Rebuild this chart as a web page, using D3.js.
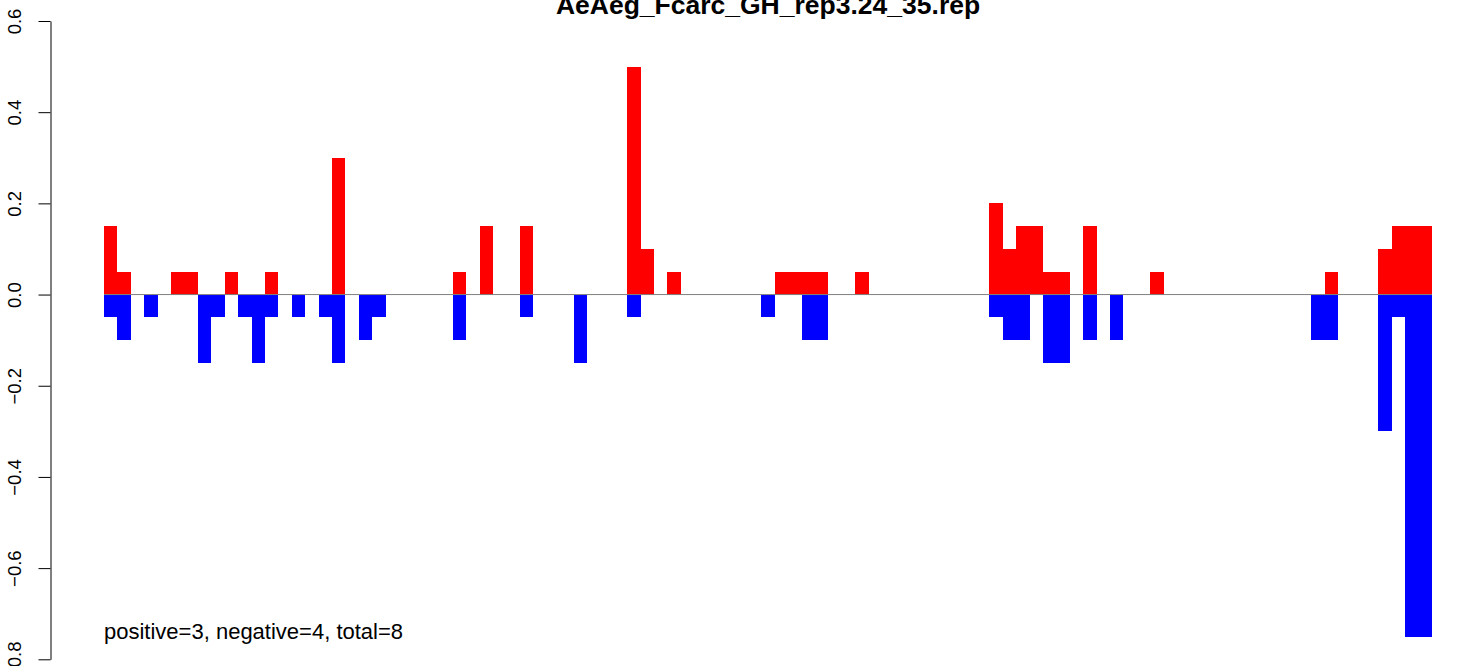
<!DOCTYPE html>
<html>
<head>
<meta charset="utf-8">
<script src="https://cdn.jsdelivr.net/npm/d3@7"></script>
<style>
  html, body { margin: 0; padding: 0; background: #fff; }
  svg { display: block; }
  text { font-family: "Liberation Sans", Arial, Helvetica, sans-serif; }
</style>
</head>
<body>
<svg id="chart" width="1460" height="666"></svg>
<script>
// ---- data ----
const titleText = "AeAeg_Fcarc_GH_rep3.24_35.rep";
const noteText = "positive=3, negative=4, total=8";
const xLabelText = "bin position, TSS = 100";
const positions = d3.range(99);
const positiveValues = [
  0.15, 0.05, 0, 0, 0, 0.05, 0.05, 0, 0, 0.05,
  0, 0, 0.05, 0, 0, 0, 0, 0.30, 0, 0,
  0, 0, 0, 0, 0, 0, 0.05, 0, 0.15, 0,
  0, 0.15, 0, 0, 0, 0, 0, 0, 0, 0.50,
  0.10, 0, 0.05, 0, 0, 0, 0, 0, 0, 0,
  0.05, 0.05, 0.05, 0.05, 0, 0, 0.05, 0, 0, 0,
  0, 0, 0, 0, 0, 0, 0.20, 0.10, 0.15, 0.15,
  0.05, 0.05, 0, 0.15, 0, 0, 0, 0, 0.05, 0,
  0, 0, 0, 0, 0, 0, 0, 0, 0, 0,
  0, 0.05, 0, 0, 0, 0.10, 0.15, 0.15, 0.15
];
const negativeValues = [
  -0.05, -0.10, 0, -0.05, 0, 0, 0, -0.15, -0.05, 0,
  -0.05, -0.15, -0.05, 0, -0.05, 0, -0.05, -0.15, 0, -0.10,
  -0.05, 0, 0, 0, 0, 0, -0.10, 0, 0, 0,
  0, -0.05, 0, 0, 0, -0.15, 0, 0, 0, -0.05,
  0, 0, 0, 0, 0, 0, 0, 0, 0, -0.05,
  0, 0, -0.10, -0.10, 0, 0, 0, 0, 0, 0,
  0, 0, 0, 0, 0, 0, -0.05, -0.10, -0.10, 0,
  -0.15, -0.15, 0, -0.10, 0, -0.10, 0, 0, 0, 0,
  0, 0, 0, 0, 0, 0, 0, 0, 0, 0,
  -0.10, -0.10, 0, 0, 0, -0.30, -0.05, -0.75, -0.75
];
const yTicks = [0.6, 0.4, 0.2, 0.0, -0.2, -0.4, -0.6, -0.8];
const yTickLabels = ["0.6", "0.4", "0.2", "0.0", "\u22120.2", "\u22120.4", "\u22120.6", "\u22120.8"];

// ---- layout ----
const svg = d3.select("#chart");
const plotLeft = 50.9, plotRight = 1485.1;
const n = positions.length;
const ext = 0.04 * n;
const x = d3.scaleLinear().domain([-ext, n + ext]).range([plotLeft, plotRight]);
const y = d3.scaleLinear().domain([-0.8, 0.6]).range([659.3, 21]);

// bars: positive (red)
svg.append("g").selectAll("rect")
  .data(positions.filter(i => positiveValues[i] !== 0))
  .join("rect")
  .attr("x", i => x(i))
  .attr("width", i => x(i + 1) - x(i))
  .attr("y", i => y(positiveValues[i]))
  .attr("height", i => y(0) - y(positiveValues[i]))
  .attr("fill", "#ff0000")
  .attr("shape-rendering", "crispEdges");

// bars: negative (blue)
svg.append("g").selectAll("rect")
  .data(positions.filter(i => negativeValues[i] !== 0))
  .join("rect")
  .attr("x", i => x(i))
  .attr("width", i => x(i + 1) - x(i))
  .attr("y", y(0))
  .attr("height", i => y(negativeValues[i]) - y(0))
  .attr("fill", "#0000ff")
  .attr("shape-rendering", "crispEdges");

// zero line
svg.append("line")
  .attr("x1", x(0)).attr("x2", x(n))
  .attr("y1", y(0)).attr("y2", y(0))
  .attr("stroke", "#808080").attr("stroke-width", 1);

// y axis
const yAxis = d3.axisLeft(y)
  .tickValues(yTicks)
  .tickFormat((d, i) => yTickLabels[i])
  .tickSize(12)
  .tickSizeOuter(0)
  .tickPadding(0);
const ga = svg.append("g").attr("transform", `translate(${Math.round(plotLeft) - 0.5},0)`).call(yAxis);
ga.select(".domain").attr("stroke", "#000").attr("stroke-width", 1);
ga.selectAll(".tick line").attr("stroke", "#000").attr("stroke-width", 1);
ga.selectAll(".tick text")
  .attr("font-size", 18.5)
  .attr("fill", "#000")
  .attr("text-anchor", "middle")
  .attr("dy", null)
  .attr("x", null)
  .attr("transform", "translate(-29.5,0) rotate(-90)")
  .attr("y", 0);
ga.attr("font-family", null);

// title
svg.append("text")
  .attr("x", (plotLeft + plotRight) / 2)
  .attr("y", 13.5)
  .attr("text-anchor", "middle")
  .attr("font-weight", "bold")
  .attr("font-size", 26.5)
  .attr("fill", "#000")
  .text(titleText);

// note text
svg.append("text")
  .attr("x", x(0))
  .attr("y", 639)
  .attr("font-size", 22)
  .attr("fill", "#000")
  .text(noteText);

// x label (mostly below the visible area)
svg.append("text")
  .attr("x", (plotLeft + plotRight) / 2)
  .attr("y", 681)
  .attr("text-anchor", "middle")
  .attr("font-size", 21)
  .attr("fill", "#000")
  .text(xLabelText);
</script>
</body>
</html>
